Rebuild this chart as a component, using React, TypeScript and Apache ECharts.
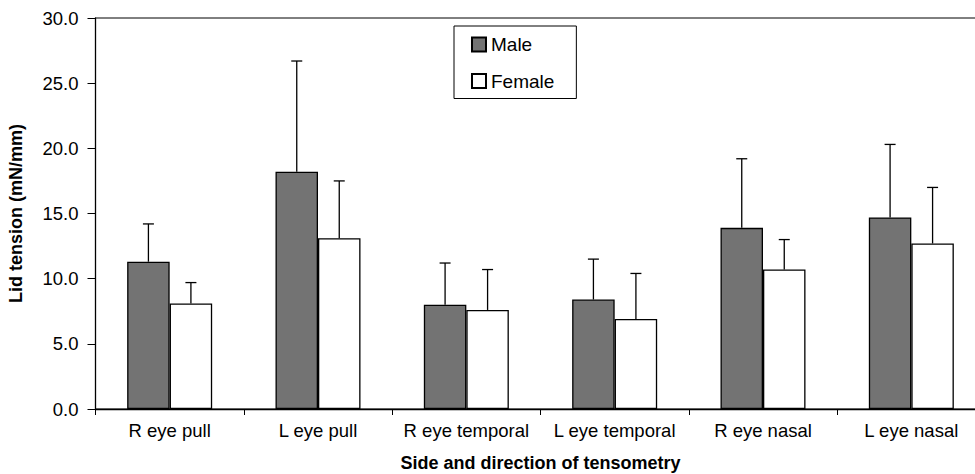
import React, { useEffect, useRef } from "react";
import * as echarts from "echarts";

const categories = ["R eye pull", "L eye pull", "R eye temporal", "L eye temporal", "R eye nasal", "L eye nasal"];
const maleValues = [11.3, 18.2, 8.0, 8.4, 13.9, 14.7];
const maleErrTop = [14.2, 26.7, 11.2, 11.5, 19.2, 20.3];
const femaleValues = [8.1, 13.1, 7.6, 6.9, 10.7, 12.7];
const femaleErrTop = [9.7, 17.5, 10.7, 10.4, 13.0, 17.0];
const yTicks = { min: 0, max: 30, interval: 5 };

const FONT = "'Liberation Sans', Arial, Helvetica, sans-serif";
const CAT_GAP = 0.427;

function errSeries(name: string, vals: number[], tops: number[], side: number) {
  return {
    type: "custom",
    name: name + " SD",
    z: 5,
    data: vals.map((v, i) => [i, v, tops[i]]),
    encode: { x: 0, y: [1, 2] },
    renderItem: (params: any, api: any) => {
      const idx = api.value(0);
      const v = api.value(1);
      const t = api.value(2);
      const p0 = api.coord([idx, v]);
      const p1 = api.coord([idx, t]);
      const catW = api.size([1, 0])[0];
      const bw = (catW * (1 - CAT_GAP)) / 2;
      const x = p0[0] + (side * bw) / 2;
      const style = { stroke: "#000", lineWidth: 1.3 };
      return {
        type: "group",
        children: [
          { type: "line", shape: { x1: x, y1: p0[1], x2: x, y2: p1[1] }, style },
          { type: "line", shape: { x1: x - 5.5, y1: p1[1], x2: x + 5.5, y2: p1[1] }, style },
        ],
      };
    },
  };
}

export default function App() {
  const ref = useRef<HTMLDivElement>(null);
  useEffect(() => {
    document.body.style.margin = "0";
    if (!ref.current) return;
    const chart = echarts.init(ref.current, null, { renderer: "svg" });
    chart.setOption({
      animation: false,
      backgroundColor: "#fff",
      textStyle: { fontFamily: FONT },
      grid: {
        left: 95.5,
        top: 18,
        width: 890,
        height: 391,
        outerBoundsMode: "none",
        containLabel: false,
        show: true,
        borderColor: "#000",
        borderWidth: 1,
        backgroundColor: "transparent",
      },
      legend: {
        orient: "vertical",
        left: 454,
        top: 26,
        data: ["Male", "Female"],
        icon: "rect",
        itemWidth: 14,
        itemHeight: 14,
        itemGap: 17.5,
        padding: [9, 22, 8, 17],
        borderColor: "#000",
        borderWidth: 1,
        backgroundColor: "#fff",
        textStyle: { fontFamily: FONT, fontSize: 19, color: "#000" },
      },
      xAxis: {
        type: "category",
        data: categories,
        axisLine: { lineStyle: { color: "#000", width: 1.3 } },
        axisTick: { show: true, length: 6, lineStyle: { color: "#000" } },
        axisLabel: { interval: 0, margin: 12, color: "#000", fontSize: 18.5, fontFamily: FONT },
        name: "Side and direction of tensometry",
        nameLocation: "middle",
        nameGap: 44.5,
        nameTextStyle: { fontWeight: "bold", fontSize: 18, color: "#000", fontFamily: FONT },
      },
      yAxis: {
        type: "value",
        min: yTicks.min,
        max: yTicks.max,
        interval: yTicks.interval,
        splitLine: { show: false },
        axisLine: { show: true, lineStyle: { color: "#000", width: 1.3 } },
        axisTick: { show: true, length: 8, lineStyle: { color: "#000" } },
        axisLabel: {
          margin: 17,
          color: "#000",
          fontSize: 18.5,
          fontFamily: FONT,
          formatter: (v: number) => v.toFixed(1),
        },
        name: "Lid tension (mN/mm)",
        nameLocation: "middle",
        nameGap: 71,
        nameRotate: 90,
        nameTextStyle: { fontWeight: "bold", fontSize: 18, color: "#000", fontFamily: FONT },
      },
      series: [
        {
          type: "bar",
          name: "Male",
          data: maleValues,
          barGap: "0%",
          barCategoryGap: (CAT_GAP * 100).toFixed(1) + "%",
          itemStyle: { color: "#737373", borderColor: "#000", borderWidth: 1.3 },
        },
        {
          type: "bar",
          name: "Female",
          data: femaleValues,
          itemStyle: { color: "#fff", borderColor: "#000", borderWidth: 1.3 },
        },
        errSeries("Male", maleValues, maleErrTop, -1),
        errSeries("Female", femaleValues, femaleErrTop, 1),
      ],
    });
    return () => chart.dispose();
  }, []);
  return <div ref={ref} style={{ width: 975, height: 474 }} />;
}
